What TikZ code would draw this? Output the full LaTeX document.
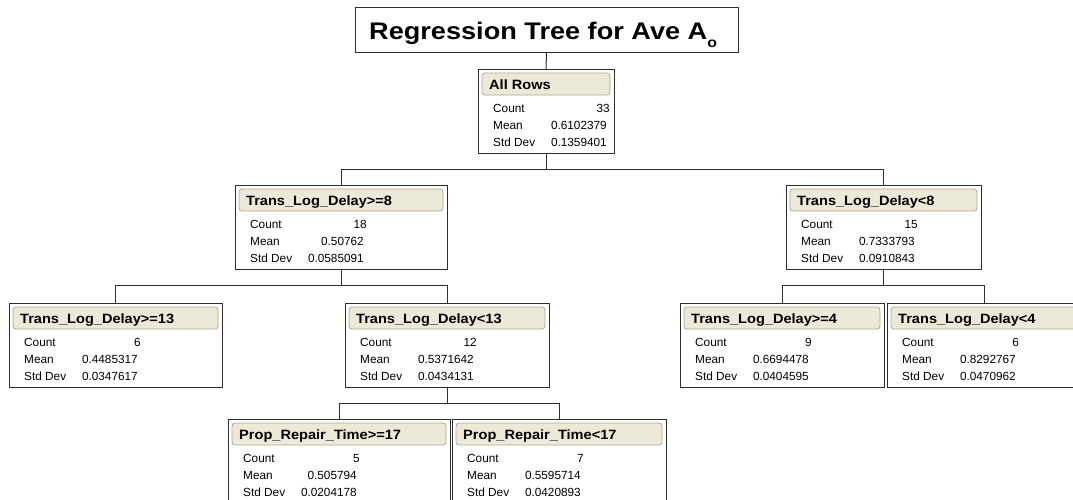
\documentclass[tikz,border=0pt]{standalone}
\usepackage{fontspec}
\usepackage{graphicx}
\setmainfont{Liberation Sans}
\definecolor{hdrfill}{HTML}{ECE9D8}
\definecolor{hdrline}{HTML}{ACA899}
\definecolor{boxline}{HTML}{2E2E2E}
\tikzset{
  box/.style={draw=boxline, line width=1pt, fill=white, rectangle, inner sep=0pt, outer sep=0pt, minimum height=84.5pt},
  hdr/.style={draw=hdrline, fill=hdrfill, line width=0.8pt, rounded corners=3pt, inner sep=0pt, outer sep=0pt, minimum height=22pt},
  htext/.style={font=\fontsize{13.5}{14}\bfseries\selectfont, inner sep=0pt},
  dtext/.style={font=\fontsize{11.8}{12}\selectfont, inner sep=0pt},
  conn/.style={draw=boxline, line width=1pt},
  titlebox/.style={draw=boxline, line width=1pt, fill=white, rectangle, inner sep=0pt, outer sep=0pt},
}
\newcommand\treenode[8]{%
  \node[box, minimum width=#4pt, anchor=north] (#1) at (#2,#3) {};
  \node[hdr, minimum width=#4pt-8pt, anchor=north] (#1h) at ([yshift=-4pt]#1.north) {};
  \node[htext, anchor=base west] (#1t) at ([xshift=11pt,yshift=-20pt]#1.north west) {\scalebox{1.08}[1]{#5}};
  \node[dtext, anchor=base west] (#1cl) at ([xshift=15pt,yshift=-43pt]#1.north west) {Count};
  \node[dtext, anchor=base east] (#1cv) at ([xshift=132pt,yshift=-43pt]#1.north west) {#6};
  \node[dtext, anchor=base west] (#1ml) at ([xshift=15pt,yshift=-60pt]#1.north west) {Mean};
  \node[dtext, anchor=base east] (#1mv) at ([xshift=129pt,yshift=-60pt]#1.north west) {#7};
  \node[dtext, anchor=base west] (#1sl) at ([xshift=15pt,yshift=-77pt]#1.north west) {Std Dev};
  \node[dtext, anchor=base east] (#1sv) at ([xshift=129pt,yshift=-77pt]#1.north west) {#8};
}
\begin{document}
\begin{tikzpicture}[x=1pt,y=-1pt]
\useasboundingbox (0,0) rectangle (1073,499);
\clip (0,0) rectangle (1073,499);
\fill[white] (0,0) rectangle (1073,499);

% title
\node[titlebox, minimum width=383pt, minimum height=45pt, anchor=north] (title) at (546.5,7) {};
\node[anchor=base west, inner sep=0pt, font=\fontsize{24}{24}\bfseries\selectfont] (titletext) at (369,39)
  {\scalebox{1.13}[1]{Regression Tree for Ave A\raisebox{-8pt}{\fontsize{14}{14}\selectfont o}}};

% nodes
\treenode{allrows}{546}{69}{136}{All Rows}{33}{0.6102379}{0.1359401}
\treenode{tldgeeight}{341}{185}{212}{Trans\_Log\_Delay>=8}{18}{0.50762}{0.0585091}
\treenode{tldlteight}{883.5}{185}{195}{Trans\_Log\_Delay<8}{15}{0.7333793}{0.0910843}
\treenode{tldgethirteen}{115.5}{303}{213}{Trans\_Log\_Delay>=13}{6}{0.4485317}{0.0347617}
\treenode{tldltthirteen}{447}{303}{204}{Trans\_Log\_Delay<13}{12}{0.5371642}{0.0434131}
\treenode{tldgefour}{782}{303}{204}{Trans\_Log\_Delay>=4}{9}{0.6694478}{0.0404595}
\treenode{tldltfour}{984}{303}{194}{Trans\_Log\_Delay<4}{6}{0.8292767}{0.0470962}
\treenode{propge}{339}{419}{222}{Prop\_Repair\_Time>=17}{5}{0.505794}{0.0204178}
\treenode{proplt}{559}{419}{214}{Prop\_Repair\_Time<17}{7}{0.5595714}{0.0420893}

% connectors
\draw[conn] (title.south) -- (allrows.north);
\draw[conn] (allrows.south) -- ++(0,16) -| (tldgeeight.north);
\draw[conn] (allrows.south) -- ++(0,16) -| (tldlteight.north);
\draw[conn] (tldgeeight.south) -- ++(0,16) -| (tldgethirteen.north);
\draw[conn] (tldgeeight.south) -- ++(0,16) -| (tldltthirteen.north);
\draw[conn] (tldlteight.south) -- ++(0,16) -| (tldgefour.north);
\draw[conn] (tldlteight.south) -- ++(0,16) -| (tldltfour.north);
\draw[conn] (tldltthirteen.south) -- ++(0,16) -| (propge.north);
\draw[conn] (tldltthirteen.south) -- ++(0,16) -| (proplt.north);
\end{tikzpicture}
\end{document}
